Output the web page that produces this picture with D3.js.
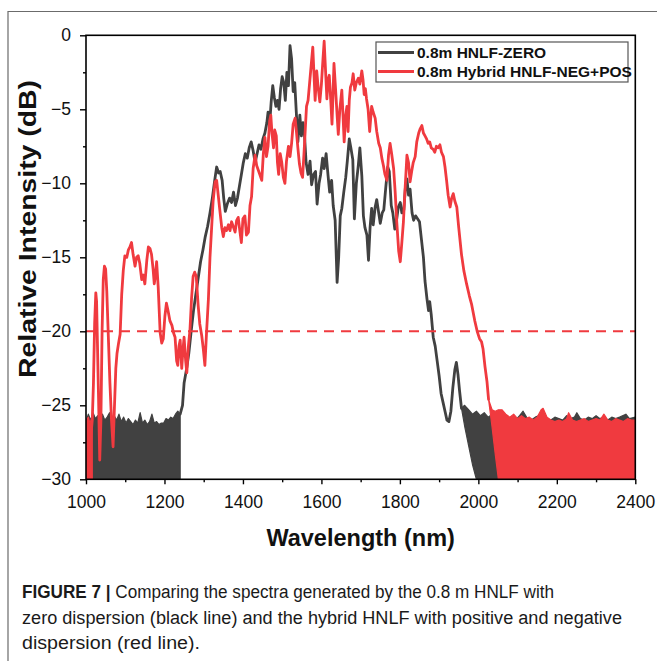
<!DOCTYPE html>
<html>
<head>
<meta charset="utf-8">
<script src="https://cdn.jsdelivr.net/npm/d3@7"></script>
<style>
  html, body { margin: 0; padding: 0; background: #fff; }
  svg { display: block; }
</style>
</head>
<body>
<svg id="chart" width="657" height="661"></svg>
<script>
// ---- data: wavelength (nm), relative intensity (dB) ----

// 0.8 m HNLF with zero dispersion: spectrum above the noise floor
const zeroSpectrum = [
  [1240,-25.6],[1246,-25.0],[1250,-23.5],[1256,-22.6],[1262,-21.5],[1268,-20.0],[1274,-18.6],
  [1280,-17.5],[1286,-16.4],[1292,-15.3],[1298,-14.5],[1304,-13.6],[1310,-12.9],[1316,-12.0],
  [1322,-11.0],[1328,-9.8],[1333,-8.9],[1338,-9.3],[1342,-9.2],[1347,-9.8],[1351,-11.0],
  [1355,-11.9],[1360,-11.4],[1366,-11.0],[1371,-11.3],[1376,-10.6],[1381,-11.5],[1386,-11.0],
  [1391,-10.2],[1396,-9.4],[1401,-8.6],[1406,-8.0],[1411,-8.3],[1416,-7.6],[1421,-7.2],
  [1426,-7.8],[1431,-8.6],[1436,-8.0],[1441,-7.4],[1446,-7.7],[1451,-7.0],[1456,-6.6],
  [1461,-5.9],[1464,-5.2],[1468,-6.0],[1472,-4.5],[1476,-3.4],[1480,-4.2],[1484,-4.8],
  [1488,-4.4],[1492,-5.0],[1496,-3.6],[1500,-2.8],[1504,-3.2],[1508,-4.4],[1512,-2.5],
  [1516,-3.4],[1520,-0.7],[1524,-1.6],[1528,-3.8],[1532,-3.2],[1536,-5.2],[1540,-7.2],
  [1545,-5.4],[1549,-6.8],[1553,-5.9],[1557,-6.8],[1561,-8.6],[1566,-9.4],[1571,-8.5],
  [1575,-10.1],[1580,-9.4],[1585,-9.2],[1589,-11.4],[1594,-10.0],[1598,-9.4],[1603,-8.3],
  [1607,-9.0],[1612,-8.0],[1617,-9.5],[1621,-10.6],[1626,-9.8],[1630,-11.5],[1635,-12.5],
  [1640,-16.7],[1644,-15.0],[1648,-12.2],[1652,-11.7],[1657,-10.6],[1662,-9.6],[1666,-8.5],
  [1671,-7.0],[1675,-7.6],[1680,-8.4],[1684,-12.4],[1689,-10.0],[1694,-8.8],[1698,-7.6],
  [1703,-9.5],[1707,-12.2],[1711,-13.0],[1716,-13.5],[1720,-15.2],[1724,-13.0],[1728,-11.7],
  [1732,-12.8],[1737,-11.6],[1741,-11.1],[1746,-12.0],[1750,-12.7],[1755,-12.0],[1759,-11.8],
  [1764,-10.3],[1769,-8.9],[1773,-9.2],[1778,-11.5],[1782,-12.0],[1787,-13.1],[1792,-12.4],
  [1796,-11.6],[1801,-11.3],[1805,-12.0],[1810,-11.8],[1814,-10.3],[1818,-9.7],[1822,-10.8],
  [1826,-10.4],[1831,-12.0],[1835,-12.5],[1840,-12.2],[1845,-12.4],[1850,-12.6],[1855,-13.8],
  [1860,-15.0],[1864,-16.6],[1869,-17.8],[1873,-18.6],[1876,-18.0],[1880,-18.9],[1885,-20.4],
  [1890,-21.0],[1895,-22.0],[1900,-23.0],[1905,-24.2],[1910,-24.8],[1915,-25.4],[1920,-26.0],
  [1925,-26.1],[1930,-25.4],[1935,-23.8],[1940,-22.6],[1944,-22.1],[1948,-22.9],[1952,-24.0],
  [1957,-25.2]
];

// zero-dispersion noise floor: [wavelength, upper edge, lower edge]
const zeroFloorShort = [
  [1000,-26.1],[1006,-25.6],[1012,-26.0],[1018,-25.5],[1024,-25.9],[1030,-25.7],[1036,-26.2],
  [1042,-25.6],[1048,-26.0],[1054,-25.8],[1060,-25.5],[1066,-26.1],[1072,-25.7],[1078,-26.0],
  [1084,-25.6],[1090,-26.1],[1096,-25.8],[1102,-26.2],[1108,-25.9],[1114,-26.1],[1120,-26.3],
  [1126,-26.0],[1132,-26.2],[1138,-25.5],[1144,-26.2],[1150,-26.0],[1156,-26.3],[1162,-26.1],
  [1168,-25.6],[1174,-26.2],[1180,-26.1],[1186,-26.3],[1192,-26.2],[1198,-26.2],[1204,-25.9],
  [1210,-26.0],[1216,-25.8],[1222,-25.9],[1228,-25.6],[1234,-25.4],[1240,-25.6]
].map(([w, top]) => [w, top, -30]);

const zeroFloorLong = [
  [1957,-25.2,-25.2],[1965,-25.0,-26.4],[1975,-25.3,-27.7],[1985,-25.6,-29.0],[1995,-25.4,-30],
  [2005,-25.7,-30],[2015,-25.5,-30],[2025,-25.8,-30],[2035,-25.6,-30],[2045,-25.9,-30],
  [2055,-25.7,-30],[2065,-25.6,-30],[2075,-25.9,-30],[2085,-25.8,-30],[2095,-26.0,-30],
  [2105,-25.7,-30],[2114,-25.4,-30],[2125,-25.9,-30],[2135,-26.0,-30],[2145,-25.8,-30],
  [2155,-25.7,-30],[2165,-25.5,-30],[2175,-25.9,-30],[2185,-26.0,-30],[2195,-25.8,-30],
  [2205,-25.9,-30],[2215,-26.0,-30],[2225,-25.7,-30],[2235,-25.9,-30],[2245,-25.8,-30],
  [2251,-25.5,-30],[2260,-25.9,-30],[2270,-26.0,-30],[2280,-25.8,-30],[2290,-25.9,-30],
  [2300,-25.7,-30],[2310,-25.9,-30],[2320,-25.8,-30],[2330,-26.0,-30],[2340,-25.8,-30],
  [2350,-25.9,-30],[2360,-25.8,-30],[2376,-25.6,-30],[2385,-25.9,-30],[2400,-25.8,-30]
];

// 0.8 m hybrid HNLF (negative + positive dispersion): spectrum above the noise floor
const hybridSpectrum = [
  [1002,-30.0],[1016,-26.0],[1019,-23.5],[1022,-19.5],[1025,-17.4],[1027,-18.0],[1029,-20.6],
  [1032,-24.5],[1035,-28.7],[1038,-26.0],[1041,-20.0],[1044,-16.5],[1047,-15.6],[1050,-15.8],
  [1053,-17.3],[1057,-20.4],[1061,-23.5],[1065,-26.0],[1069,-27.8],[1072,-25.5],[1076,-22.5],
  [1079,-21.5],[1083,-20.8],[1087,-20.2],[1091,-17.5],[1095,-15.9],[1099,-14.9],[1104,-15.0],
  [1108,-14.5],[1112,-14.3],[1116,-14.0],[1120,-14.8],[1125,-15.6],[1129,-15.0],[1133,-14.9],
  [1137,-15.4],[1142,-16.5],[1146,-16.2],[1150,-16.8],[1155,-15.2],[1159,-14.3],[1163,-14.4],
  [1167,-14.8],[1171,-15.8],[1174,-16.8],[1177,-16.2],[1180,-15.3],[1184,-17.0],[1189,-20.1],
  [1193,-20.8],[1197,-20.5],[1201,-19.0],[1205,-18.1],[1209,-18.6],[1214,-19.3],[1219,-19.6],
  [1223,-20.1],[1227,-20.4],[1231,-22.0],[1234,-22.3],[1237,-21.0],[1240,-20.6],[1244,-22.5],
  [1247,-21.3],[1250,-20.4],[1254,-22.0],[1257,-22.8],[1261,-21.0],[1265,-19.9],[1269,-17.8],
  [1273,-16.3],[1277,-16.0],[1281,-16.3],[1286,-18.3],[1290,-19.5],[1295,-20.3],[1299,-21.2],
  [1303,-22.3],[1307,-20.2],[1312,-17.8],[1316,-15.0],[1320,-13.1],[1324,-11.2],[1329,-9.9],
  [1333,-9.8],[1337,-10.8],[1341,-11.8],[1346,-13.0],[1350,-13.6],[1354,-13.0],[1358,-13.2],
  [1363,-12.8],[1367,-13.2],[1371,-12.6],[1375,-12.9],[1380,-13.3],[1384,-12.5],[1388,-12.3],
  [1392,-13.2],[1396,-14.0],[1400,-12.4],[1405,-12.2],[1409,-13.5],[1414,-13.3],[1418,-11.5],
  [1422,-10.9],[1426,-9.0],[1431,-8.1],[1435,-8.8],[1439,-9.1],[1443,-9.4],[1448,-9.8],
  [1452,-8.0],[1456,-6.9],[1460,-8.2],[1464,-7.5],[1468,-5.8],[1471,-5.4],[1474,-6.6],
  [1478,-7.6],[1481,-6.4],[1485,-6.8],[1488,-8.6],[1491,-9.4],[1495,-8.0],[1499,-8.6],
  [1503,-9.6],[1507,-10.0],[1511,-8.5],[1516,-7.5],[1520,-8.2],[1524,-7.3],[1528,-6.0],
  [1533,-5.6],[1536,-6.4],[1540,-7.6],[1544,-8.7],[1548,-9.3],[1552,-9.6],[1556,-7.8],
  [1559,-6.3],[1562,-4.8],[1566,-4.4],[1570,-3.2],[1574,-2.0],[1578,-0.8],[1581,-2.6],
  [1584,-4.4],[1588,-2.4],[1592,-3.6],[1596,-4.5],[1600,-3.3],[1604,-1.6],[1607,-0.4],
  [1610,-2.1],[1614,-4.3],[1617,-3.0],[1620,-2.7],[1624,-4.5],[1627,-6.0],[1630,-3.6],
  [1632,-1.9],[1636,-3.6],[1640,-5.4],[1643,-6.7],[1647,-5.0],[1652,-3.7],[1655,-5.4],
  [1658,-7.2],[1662,-5.4],[1665,-4.8],[1668,-6.5],[1671,-4.4],[1674,-3.5],[1678,-3.2],
  [1681,-2.6],[1685,-3.7],[1689,-3.2],[1694,-2.9],[1698,-3.3],[1703,-2.4],[1706,-3.0],
  [1709,-4.0],[1712,-3.6],[1715,-4.3],[1719,-5.0],[1723,-6.5],[1728,-4.8],[1732,-5.2],
  [1737,-5.6],[1741,-6.5],[1746,-7.3],[1750,-7.6],[1754,-8.3],[1758,-8.8],[1762,-9.4],
  [1767,-9.8],[1771,-8.1],[1775,-7.3],[1779,-8.0],[1784,-9.0],[1788,-10.6],[1792,-12.6],
  [1797,-14.6],[1801,-15.3],[1805,-14.0],[1809,-12.6],[1813,-10.5],[1818,-8.1],[1822,-8.6],
  [1826,-9.9],[1830,-9.2],[1834,-8.6],[1839,-8.2],[1843,-7.2],[1848,-6.6],[1852,-6.3],
  [1856,-6.1],[1860,-6.6],[1864,-6.8],[1868,-7.0],[1872,-7.3],[1876,-7.2],[1880,-7.6],
  [1885,-7.7],[1889,-7.9],[1893,-7.5],[1898,-7.6],[1902,-7.4],[1906,-7.9],[1911,-8.2],
  [1915,-8.9],[1919,-9.8],[1923,-10.8],[1928,-11.6],[1932,-11.0],[1936,-10.7],[1940,-11.2],
  [1945,-11.6],[1950,-13.0],[1957,-14.8],[1963,-15.9],[1970,-16.8],[1977,-17.6],[1983,-18.2],
  [1991,-19.3],[1997,-20.0],[2003,-20.5],[2008,-20.7],[2012,-21.2],[2017,-22.4],[2022,-23.4],
  [2026,-24.6]
];

// hybrid noise floor: [wavelength, upper edge, lower edge]
const hybridFloorShort = [
  [1002,-26.0,-30],[1006,-25.8,-30],[1010,-26.2,-30],[1014,-25.9,-30],[1016,-26.0,-30]
];

const hybridFloorLong = [
  [2026,-24.6,-24.6],[2035,-25.3,-26.5],[2043,-25.4,-28.3],[2051,-25.3,-30],[2060,-25.3,-30],
  [2070,-25.6,-30],[2080,-25.8,-30],[2090,-25.6,-30],[2100,-25.9,-30],[2110,-25.7,-30],
  [2120,-25.9,-30],[2130,-25.8,-30],[2140,-26.0,-30],[2150,-25.8,-30],[2160,-25.3,-30],
  [2165,-25.2,-30],[2175,-25.8,-30],[2185,-26.0,-30],[2195,-26.1,-30],[2205,-26.0,-30],
  [2215,-26.1,-30],[2225,-25.9,-30],[2230,-25.5,-30],[2240,-26.0,-30],[2250,-26.1,-30],
  [2260,-26.0,-30],[2270,-25.9,-30],[2280,-26.1,-30],[2290,-26.0,-30],[2300,-25.9,-30],
  [2310,-26.0,-30],[2320,-25.6,-30],[2330,-26.0,-30],[2340,-26.1,-30],[2350,-25.9,-30],
  [2360,-26.0,-30],[2370,-26.1,-30],[2380,-25.9,-30],[2390,-26.0,-30],[2400,-26.0,-30]
];

const seriesNames = ["0.8m HNLF-ZERO", "0.8m Hybrid HNLF-NEG+POS"];
const seriesColors = ["#414141", "#f03a3f"];
const thresholdDb = -20;

const xMajorTicks = [1000, 1200, 1400, 1600, 1800, 2000, 2200, 2400];
const xMinorTicks = [1100, 1300, 1500, 1700, 1900, 2100, 2300];
const yMajorTicks = [0, -5, -10, -15, -20, -25, -30];
const yMinorTicks = [-2.5, -7.5, -12.5, -17.5, -22.5, -27.5];

const xTitle = "Wavelength (nm)";
const yTitle = "Relative Intensity (dB)";
const captionLines = [
  { bold: "FIGURE 7 | ", text: "Comparing the spectra generated by the 0.8 m HNLF with", width: 532 },
  { bold: "", text: "zero dispersion (black line) and the hybrid HNLF with positive and negative", width: 600 },
  { bold: "", text: "dispersion (red line).", width: 178 }
];

// ---- layout ----
const svg = d3.select("#chart");
const FONT = "'Liberation Sans', Arial, Helvetica, sans-serif";
const plot = { left: 86, right: 635.3, top: 35.3, bottom: 479.3 };

const x = d3.scaleLinear().domain([1000, 2400]).range([plot.left, plot.right]);
const y = d3.scaleLinear().domain([-30, 0]).range([plot.bottom, plot.top]);

svg.append("rect").attr("width", 657).attr("height", 661).attr("fill", "#fff");

// page frame around the figure
svg.append("path")
  .attr("d", "M8,661 V11.5 H657")
  .attr("fill", "none").attr("stroke", "#6b6b6b").attr("stroke-width", 1.2);

svg.append("defs").append("clipPath").attr("id", "plotClip")
  .append("rect")
  .attr("x", plot.left).attr("y", plot.top)
  .attr("width", plot.right - plot.left).attr("height", plot.bottom - plot.top);

const marks = svg.append("g").attr("clip-path", "url(#plotClip)");

const line = d3.line().x(d => x(d[0])).y(d => y(d[1]));
const band = d3.area().x(d => x(d[0])).y0(d => y(d[2])).y1(d => y(d[1]));

function drawSeries(spectrum, floors, color) {
  floors.forEach(f => {
    marks.append("path").datum(f).attr("d", band)
      .attr("fill", color).attr("stroke", color).attr("stroke-width", 1.2)
      .attr("stroke-linejoin", "round");
  });
  marks.append("path").datum(spectrum).attr("d", line)
    .attr("fill", "none").attr("stroke", color).attr("stroke-width", 2.8)
    .attr("stroke-linejoin", "round").attr("stroke-linecap", "round");
}

drawSeries(zeroSpectrum, [zeroFloorShort, zeroFloorLong], seriesColors[0]);
drawSeries(hybridSpectrum, [hybridFloorShort, hybridFloorLong], seriesColors[1]);

// -20 dB reference
marks.append("line")
  .attr("x1", x(1000)).attr("x2", x(2400))
  .attr("y1", y(thresholdDb)).attr("y2", y(thresholdDb))
  .attr("stroke", seriesColors[1]).attr("stroke-width", 2)
  .attr("stroke-dasharray", "10,7");

// ---- axes ----
function styleAxis(g) {
  g.select(".domain").remove();
  g.selectAll(".tick line").attr("stroke", "#000").attr("stroke-width", 1.4);
  g.selectAll(".tick text").attr("fill", "#111")
    .style("font-family", FONT).style("font-size", "17.5px");
}

svg.append("g").attr("transform", `translate(0,${plot.bottom})`)
  .call(d3.axisBottom(x).tickValues(xMinorTicks).tickSize(3).tickFormat(""))
  .call(styleAxis);
svg.append("g").attr("transform", `translate(0,${plot.bottom})`)
  .call(d3.axisBottom(x).tickValues(xMajorTicks).tickSize(5).tickPadding(11).tickFormat(d3.format("d")))
  .call(styleAxis);

svg.append("g").attr("transform", `translate(${plot.left},0)`)
  .call(d3.axisLeft(y).tickValues(yMinorTicks).tickSize(3).tickFormat(""))
  .call(styleAxis);
svg.append("g").attr("transform", `translate(${plot.left},0)`)
  .call(d3.axisLeft(y).tickValues(yMajorTicks).tickSize(6).tickPadding(9).tickFormat(d3.format("d")))
  .call(styleAxis);

// plot frame
svg.append("rect")
  .attr("x", plot.left).attr("y", plot.top)
  .attr("width", plot.right - plot.left).attr("height", plot.bottom - plot.top)
  .attr("fill", "none").attr("stroke", "#000").attr("stroke-width", 1.6);

// titles
svg.append("text")
  .attr("x", (plot.left + plot.right) / 2).attr("y", 546)
  .attr("text-anchor", "middle")
  .style("font-family", FONT).style("font-weight", "bold").style("font-size", "23.5px")
  .attr("fill", "#111").text(xTitle);

svg.append("text")
  .attr("transform", "translate(36,229) rotate(-90)")
  .attr("text-anchor", "middle")
  .attr("textLength", 298).attr("lengthAdjust", "spacingAndGlyphs")
  .style("font-family", FONT).style("font-weight", "bold").style("font-size", "24px")
  .attr("fill", "#111").text(yTitle);

// ---- legend ----
const legend = svg.append("g");
legend.append("rect")
  .attr("x", 376).attr("y", 42).attr("width", 252).attr("height", 40)
  .attr("fill", "#fff").attr("stroke", "#555").attr("stroke-width", 1.2);
seriesNames.forEach((name, i) => {
  const ly = 52.5 + i * 19;
  legend.append("line")
    .attr("x1", 378).attr("x2", 414).attr("y1", ly).attr("y2", ly)
    .attr("stroke", seriesColors[i]).attr("stroke-width", 3);
  legend.append("text")
    .attr("x", 417).attr("y", ly).attr("dy", "0.36em")
    .style("font-family", FONT).style("font-weight", "bold").style("font-size", "15.5px")
    .attr("fill", "#111").text(name);
});

// ---- caption ----
captionLines.forEach((c, i) => {
  const t = svg.append("text")
    .attr("x", 22).attr("y", 598 + i * 25.5)
    .attr("textLength", c.width).attr("lengthAdjust", "spacingAndGlyphs")
    .style("font-family", FONT).style("font-size", "18px").attr("fill", "#1a1a1a");
  if (c.bold) t.append("tspan").style("font-weight", "bold").text(c.bold);
  t.append("tspan").text(c.text);
});
</script>
</body>
</html>
